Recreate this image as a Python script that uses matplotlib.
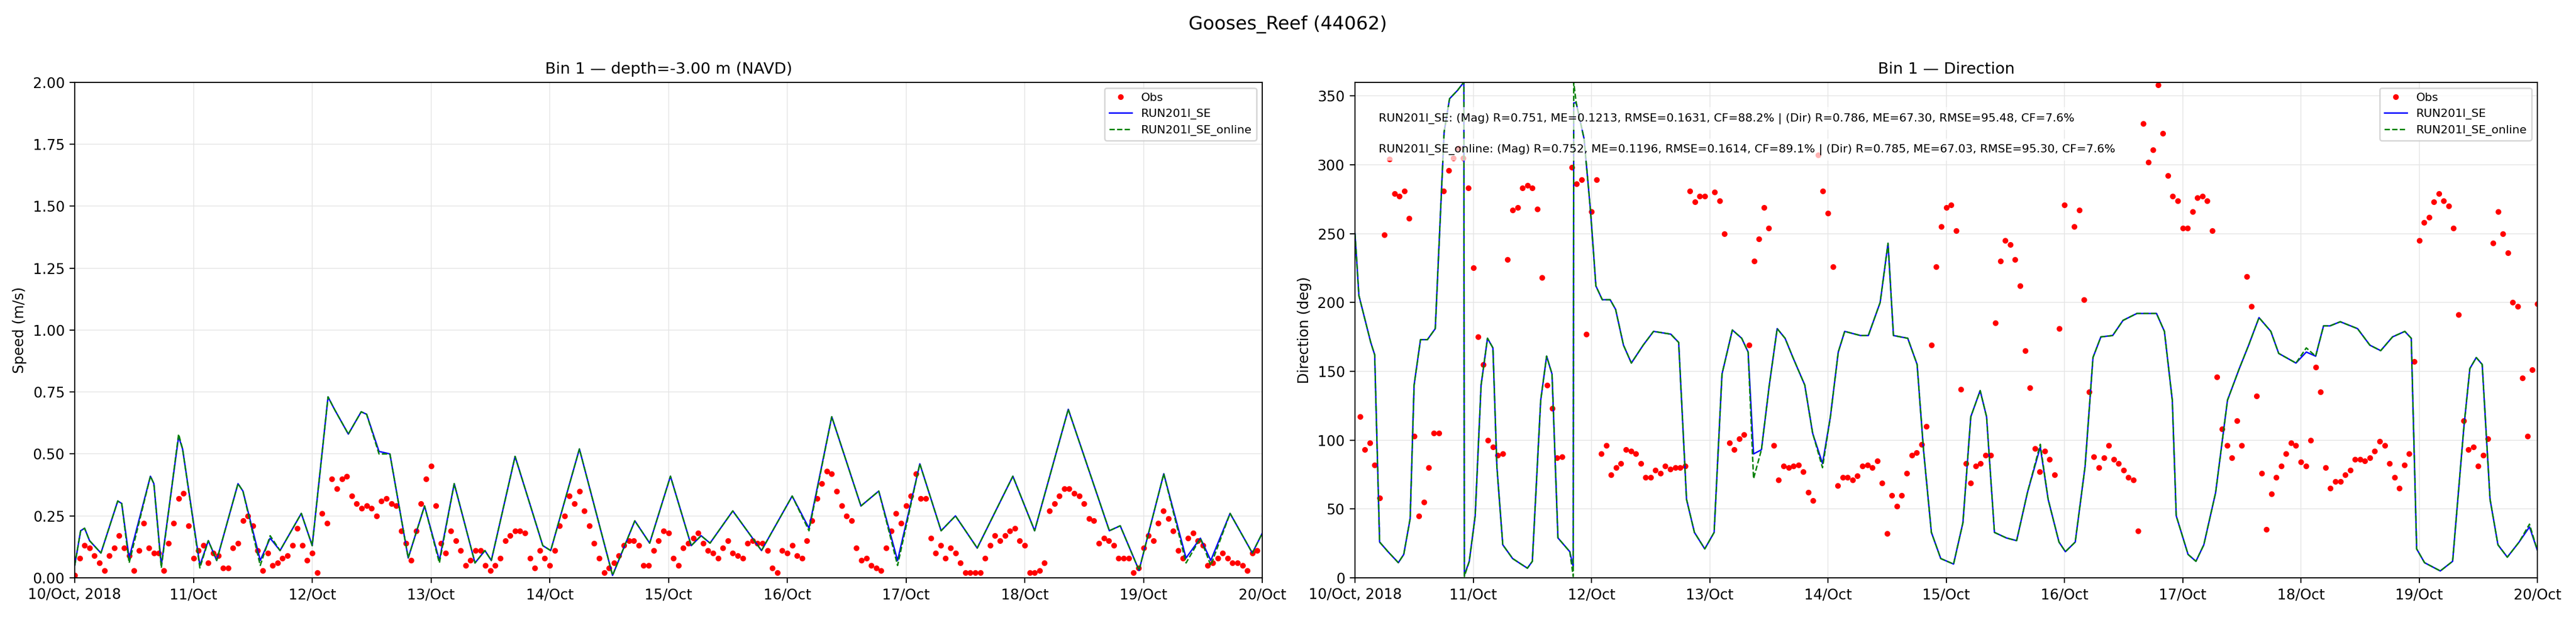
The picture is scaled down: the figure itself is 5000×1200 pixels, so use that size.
import numpy as np
import matplotlib
matplotlib.use("Agg")
import matplotlib.pyplot as plt
from datetime import datetime, timedelta

start = datetime(2018, 10, 10)
tick_labels = ["10/Oct, 2018", "11/Oct", "12/Oct", "13/Oct", "14/Oct", "15/Oct",
               "16/Oct", "17/Oct", "18/Oct", "19/Oct", "20/Oct"]

# model speed, (hour, m/s) knots
spd_hours = [0, 1.2, 2, 3, 5.3, 8.7, 9.5, 11, 15.3, 16, 17.5, 21, 21.8, 25.3, 27, 28.7, 33, 34, 37.5,
             39.5, 41.5, 45.8, 48, 51.2, 52.5, 55.3, 57.9, 59, 61.5, 63.7, 67.4, 70.7, 73.7, 76.7,
             80.9, 82.9, 84.2, 89, 94.6, 96.2, 102, 108.7, 113.2, 116.2, 120.4, 124.6, 126.6,
             128.4, 133, 138.8, 145, 148.4, 153, 158.9, 162.5, 166.3, 170.8, 175.1, 178, 182.4,
             189.6, 194, 200.8, 209.1, 211.3, 215.1, 220.1, 224.6, 227.5, 229.6, 233.5, 238, 240]
spd_model = [0.05, 0.19, 0.20, 0.15, 0.10, 0.31, 0.30, 0.08, 0.41, 0.38, 0.05, 0.57, 0.52, 0.05,
             0.15, 0.07, 0.38, 0.35, 0.07, 0.16, 0.11, 0.26, 0.13, 0.73, 0.68, 0.58, 0.67, 0.66,
             0.51, 0.50, 0.08, 0.29, 0.07, 0.38, 0.06, 0.11, 0.07, 0.49, 0.13, 0.11, 0.52, 0.01,
             0.23, 0.14, 0.41, 0.13, 0.17, 0.14, 0.27, 0.11, 0.33, 0.20, 0.65, 0.29, 0.35, 0.07,
             0.46, 0.19, 0.25, 0.12, 0.41, 0.19, 0.68, 0.19, 0.21, 0.03, 0.42, 0.08, 0.16, 0.07,
             0.26, 0.10, 0.18]
spd_online = [0.05, 0.19, 0.20, 0.15, 0.10, 0.31, 0.30, 0.06, 0.41, 0.38, 0.04, 0.58, 0.52, 0.04,
              0.15, 0.07, 0.38, 0.35, 0.05, 0.17, 0.11, 0.26, 0.13, 0.73, 0.68, 0.58, 0.67, 0.66,
              0.50, 0.50, 0.08, 0.29, 0.06, 0.38, 0.06, 0.11, 0.07, 0.49, 0.13, 0.11, 0.52, 0.01,
              0.23, 0.14, 0.41, 0.13, 0.17, 0.14, 0.27, 0.11, 0.33, 0.19, 0.65, 0.29, 0.35, 0.05,
              0.46, 0.19, 0.25, 0.12, 0.41, 0.19, 0.68, 0.19, 0.21, 0.03, 0.42, 0.06, 0.16, 0.05,
              0.26, 0.10, 0.18]

# hourly observed speed
obs_spd = [0.01, 0.08, 0.13, 0.12, 0.09, 0.06, 0.03, 0.09, 0.12, 0.17, 0.12, 0.09, 0.03, 0.11, 0.22,
           0.12, 0.10, 0.10, 0.03, 0.14, 0.22, 0.32, 0.34, 0.21, 0.08, 0.11, 0.13, 0.06, 0.10, 0.09,
           0.04, 0.04, 0.12, 0.14, 0.23, 0.25, 0.21, 0.11, 0.03, 0.10, 0.05, 0.06, 0.08, 0.09, 0.13,
           0.20, 0.13, 0.07, 0.10, 0.02, 0.26, 0.22, 0.40, 0.36, 0.40, 0.41, 0.33, 0.30, 0.28, 0.29,
           0.28, 0.25, 0.31, 0.32, 0.30, 0.29, 0.19, 0.14, 0.07, 0.19, 0.30, 0.40, 0.45, 0.29, 0.14,
           0.10, 0.19, 0.15, 0.11, 0.05, 0.07, 0.11, 0.11, 0.05, 0.03, 0.05, 0.08, 0.15, 0.17, 0.19,
           0.19, 0.18, 0.08, 0.04, 0.11, 0.08, 0.05, 0.11, 0.21, 0.25, 0.33, 0.30, 0.35, 0.27, 0.21,
           0.14, 0.08, 0.02, 0.04, 0.06, 0.09, 0.13, 0.15, 0.15, 0.13, 0.05, 0.05, 0.11, 0.15, 0.19,
           0.18, 0.08, 0.05, 0.12, 0.14, 0.16, 0.18, 0.14, 0.11, 0.10, 0.08, 0.12, 0.15, 0.10, 0.09,
           0.08, 0.14, 0.15, 0.14, 0.14, 0.11, 0.04, 0.02, 0.11, 0.10, 0.13, 0.09, 0.08, 0.15, 0.23,
           0.32, 0.38, 0.43, 0.42, 0.35, 0.29, 0.25, 0.23, 0.12, 0.07, 0.08, 0.05, 0.04, 0.03, 0.12,
           0.19, 0.26, 0.22, 0.29, 0.33, 0.42, 0.32, 0.32, 0.16, 0.10, 0.13, 0.08, 0.12, 0.10, 0.06,
           0.02, 0.02, 0.02, 0.02, 0.08, 0.13, 0.17, 0.15, 0.17, 0.19, 0.20, 0.15, 0.13, 0.02, 0.02,
           0.03, 0.06, 0.27, 0.30, 0.33, 0.36, 0.36, 0.34, 0.33, 0.30, 0.24, 0.23, 0.14, 0.16, 0.15,
           0.13, 0.08, 0.08, 0.08, 0.02, 0.04, 0.12, 0.17, 0.15, 0.22, 0.27, 0.24, 0.19, 0.11, 0.08,
           0.16, 0.18, 0.15, 0.13, 0.05, 0.06, 0.08, 0.10, 0.08, 0.06, 0.06, 0.05, 0.03, 0.10, 0.11]

# model direction, (hour, deg) knots
dir_hours = [0, 0.8, 3.2, 4, 5, 6.7, 8.8, 9.9, 11.2, 12, 13.3, 14.7, 16.3, 17.3, 18.1, 19.2, 20.8,
             22.1, 22.2, 23.2, 24.4, 25.6, 26.9, 28, 28.8, 30, 32, 33.7, 35, 36, 37.7, 38.9, 40,
             41.2, 43.6, 44.3, 44.4, 44.9, 46.5, 47.8, 48.9, 50.2, 51.8, 52.9, 54.5, 56.1, 58.5,
             60.6, 64.1, 65.7, 67.3, 68.9, 71, 72.9, 74.5, 76.6, 78.5, 79.8, 80.9, 82.5, 84.1,
             85.7, 87.3, 88.9, 91.3, 92.9, 94.9, 96.5, 98.1, 99.4, 102.6, 104.2, 106.6, 108.2,
             109.3, 112.2, 114.1, 115.4, 117, 118.9, 121.5, 123.4, 125, 126.9, 128.2, 129.8, 132.2,
             134.3, 136.5, 139.1, 140.7, 142.9, 144.2, 146.2, 148.2, 149.8, 151.4, 153.8, 155.9,
             158.7, 162.7, 164.3, 165.9, 166.7, 169.1, 170.7, 172.3, 174.7, 177.1, 179.5, 181.4,
             183.5, 185.9, 187.5, 191, 193.1, 195, 196.6, 197.9, 200, 203.5, 206, 208.2, 210.6,
             213.1, 214.4, 215.5, 217.1, 220.3, 222.8, 225.1, 226.3, 227.6, 228.8, 230.4, 232,
             233.9, 236.3, 238.4, 240]
dir_model = [250, 205, 171, 162, 26, 19, 11, 17, 43, 140, 173, 173, 181, 260, 324, 348, 354,
             360, 2, 12, 45, 140, 174, 167, 81, 24, 14, 10, 7, 12, 129, 161, 148,
             29, 19, 8, 345, 345, 319, 267, 212, 202, 202, 195, 169, 156, 169,
             179, 177, 171, 57, 33, 21, 33, 148, 180, 174, 164, 90, 93, 140,
             181, 174, 160, 140, 105, 83, 117, 164, 179, 176, 176, 200, 243,
             176, 174, 155, 93, 33, 14, 10, 40, 117, 136, 117, 33, 29,
             27, 62, 95, 57, 26, 19, 26, 81, 160, 175, 176, 187,
             192, 192, 179, 129, 45, 17, 12, 24, 62, 129, 152, 169,
             189, 179, 163, 156, 164, 161, 183, 183, 186, 181, 169, 165, 175,
             179, 174, 21, 11, 5, 12, 110, 152, 160, 155, 57, 24,
             15, 26, 37, 20]
dir_online = [250, 205, 171, 162, 26, 19, 11, 17, 43, 140, 173, 173, 181, 260, 324, 348, 354,
              360, 1, 12, 45, 140, 174, 167, 81, 24, 14, 10, 7, 12, 129, 161, 148,
              29, 19, 1, 360, 345, 319, 267, 212, 202, 202, 195, 169, 156, 169,
              179, 177, 171, 57, 33, 21, 33, 148, 180, 174, 164, 72, 93, 140,
              181, 174, 160, 140, 105, 80, 117, 164, 179, 176, 176, 200, 243,
              176, 174, 155, 93, 33, 14, 10, 40, 117, 136, 117, 33, 29,
              27, 62, 97, 57, 26, 19, 26, 81, 160, 175, 176, 187,
              192, 192, 179, 129, 45, 17, 12, 24, 62, 129, 152, 169,
              189, 179, 163, 156, 167, 161, 183, 183, 186, 181, 169, 165, 175,
              179, 174, 21, 11, 5, 12, 110, 152, 160, 155, 57, 24,
              15, 26, 39, 20]

# hourly observed direction, starting at hour 1
obs_dir = [117, 93, 98, 82, 58, 249, 304, 279, 277, 281, 261, 103, 45, 55, 80, 105, 105, 281, 296,
           305, 312, 305, 283, 225, 175, 155, 100, 95, 89, 90, 231, 267, 269, 283, 285, 283, 268,
           218, 140, 123, 87, 88, np.nan, 298, 286, 289, 177, 266, 289, 90, 96, 75, 80, 83, 93, 92,
           90, 83, 73, 73, 78, 76, 81, 79, 80, 80, 81, 281, 273, 277, 277, np.nan, 280, 274, 250,
           98, 93, 101, 104, 169, 230, 246, 269, 254, 96, 71, 81, 80, 81, 82, 77, 62, 56, 307,
           281, 265, 226, 67, 73, 73, 71, 74, 81, 82, 80, 85, 69, 32, 60, 52, 60, 76, 89, 91, 97,
           110, 169, 226, 255, 269, 271, 252, 137, 83, 69, 81, 83, 89, 89, 185, 230, 245, 242, 231,
           212, 165, 138, 94, 77, 92, 86, 75, 181, 271, np.nan, 255, 267, 202, 135, 88, 80, 87, 96,
           86, 83, 78, 73, 71, 34, 330, 302, 311, 358, 323, 292, 277, 274, 254, 254, 266, 276, 277,
           274, 252, 146, 108, 96, 87, 114, 96, 219, 197, 132, 76, 35, 61, 73, 81, 90, 98, 96, 84,
           81, 100, 153, 135, 80, 65, 70, 70, 75, 78, 86, 86, 85, 87, 92, 99, 96, 83, 73, 65, 82,
           90, 157, 245, 258, 262, 273, 279, 274, 270, 254, 191, 114, 93, 95, 81, 89, 101, 243,
           266, 250, 236, 200, 197, 145, 103, 151, 199]

t_spd_model = [start + timedelta(hours=h) for h in spd_hours]
t_dir_model = [start + timedelta(hours=h) for h in dir_hours]
t_obs_spd = [start + timedelta(hours=i) for i in range(len(obs_spd))]
t_obs_dir = [start + timedelta(hours=i + 1) for i in range(len(obs_dir))]
ticks = [start + timedelta(days=d) for d in range(11)]

fig = plt.figure(figsize=(25, 6), dpi=200)
ax1 = fig.add_axes([0.029, 0.065, 0.461, 0.802])
ax2 = fig.add_axes([0.526, 0.065, 0.459, 0.802])

ax1.plot(t_obs_spd, obs_spd, "o", color="red", ms=3, label="Obs")
ax1.plot(t_spd_model, spd_model, "-", color="blue", lw=1, label="RUN201l_SE")
ax1.plot(t_spd_model, spd_online, "--", color="green", lw=1, label="RUN201l_SE_online")
ax1.set_ylim(0, 2.0)
ax1.set_ylabel("Speed (m/s)")
ax1.set_title("Bin 1 — depth=-3.00 m (NAVD)", fontsize=11)

ax2.plot(t_obs_dir, obs_dir, "o", color="red", ms=3, label="Obs")
ax2.plot(t_dir_model, dir_model, "-", color="blue", lw=1, label="RUN201l_SE")
ax2.plot(t_dir_model, dir_online, "--", color="green", lw=1, label="RUN201l_SE_online")
ax2.set_ylim(0, 360)
ax2.set_ylabel("Direction (deg)")
ax2.set_title("Bin 1 — Direction", fontsize=11)

bbox = dict(facecolor="white", edgecolor="none", alpha=0.7)
ax2.text(0.02, 0.927, "RUN201l_SE: (Mag) R=0.751, ME=0.1213, RMSE=0.1631, CF=88.2% | (Dir) R=0.786, ME=67.30, RMSE=95.48, CF=7.6%",
         transform=ax2.transAxes, fontsize=8, va="center", bbox=bbox)
ax2.text(0.02, 0.864, "RUN201l_SE_online: (Mag) R=0.752, ME=0.1196, RMSE=0.1614, CF=89.1% | (Dir) R=0.785, ME=67.03, RMSE=95.30, CF=7.6%",
         transform=ax2.transAxes, fontsize=8, va="center", bbox=bbox)

for ax in (ax1, ax2):
    ax.set_xlim(ticks[0], ticks[-1])
    ax.set_xticks(ticks)
    ax.set_xticklabels(tick_labels)
    ax.grid(True, color="#e6e6e6", lw=0.6)
    ax.legend(loc="upper right", fontsize=8)

fig.suptitle("Gooses_Reef (44062)", fontsize=13, y=0.975)
fig.savefig("out.png", dpi=200)
